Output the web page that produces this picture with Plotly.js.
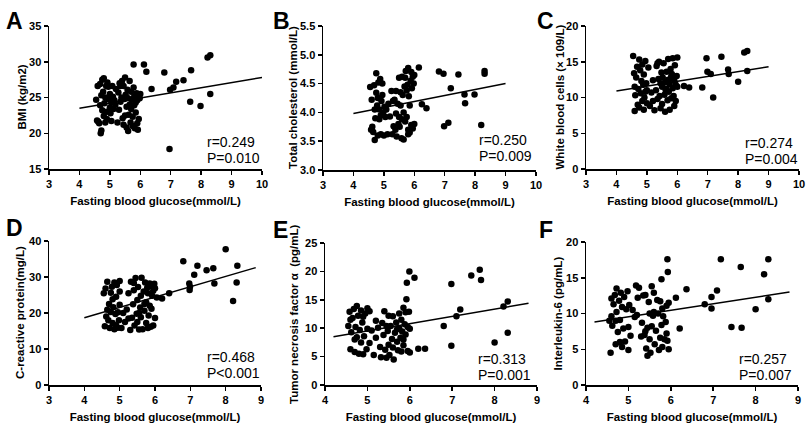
<!DOCTYPE html>
<html>
<head>
<meta charset="utf-8">
<script src="https://cdn.plot.ly/plotly-3.0.1.min.js"></script>
<style>html,body{margin:0;padding:0;background:#fff;}#chart{width:812px;height:425px;}</style>
</head>
<body>
<div id="chart"></div>
<script>
// ---------- DATA ----------
const xTitle = "Fasting blood glucose(mmol/L)";
const panelLetters = ["A", "B", "C", "D", "E", "F"];
const yTitles = ["BMI (kg/m2)", "Total cholesterol (mmol/L)", "White blood cells (× 109/L)",
                 "C-reactive protein(mg/L)", "Tumor necrosis factor α  (pg/mL)", "Interleukin-6 (pg/mL)"];
const rTexts = ["r=0.249", "r=0.250", "r=0.274", "r=0.468", "r=0.313", "r=0.257"];
const pTexts = ["P=0.010", "P=0.009", "P=0.004", "P<0.001", "P=0.001", "P=0.007"];

const xRanges = [[3, 10], [3, 10], [3, 10], [3, 9], [4, 9], [4, 9]];
const yRanges = [[15, 35], [3.0, 5.5], [0, 20], [0, 40], [0, 25], [0, 20]];
const yTickSteps = [5, 0.5, 5, 10, 5, 5];

// Panel A: BMI
const bmiPoints = [
 [4.55,24.7],[4.6,26.6],[4.62,21.6],[4.65,21.4],[4.68,26.9],[4.7,20.0],[4.72,20.4],[4.75,23.2],[4.75,27.5],[4.78,25.8],
 [4.8,22.4],[4.8,27.7],[4.82,24.2],[4.85,21.5],[4.85,25.0],[4.88,26.6],[4.9,23.0],[4.9,22.0],[4.95,24.8],[4.95,26.5],
 [5.0,25.5],[5.0,23.6],[5.02,22.8],[5.05,24.3],[5.08,26.6],[5.1,25.1],[5.12,23.4],[5.15,24.6],[5.2,26.2],[5.25,21.5],
 [5.28,25.7],[5.3,23.3],[5.32,27.0],[5.35,24.4],[5.38,25.0],[5.4,27.3],[5.42,22.1],[5.45,26.6],[5.45,21.2],[5.48,24.8],
 [5.5,27.8],[5.5,22.5],[5.52,25.4],[5.55,23.7],[5.58,26.1],[5.6,20.3],[5.6,24.9],[5.62,22.6],[5.65,27.3],[5.68,21.5],
 [5.7,25.8],[5.7,23.4],[5.72,24.7],[5.75,21.0],[5.78,26.4],[5.8,23.9],[5.8,25.1],[5.82,20.7],[5.85,22.9],[5.85,24.3],
 [5.88,25.6],[5.9,21.4],[5.9,24.6],[5.92,20.5],[5.95,25.2],[5.95,22.0],[5.98,24.9],[6.0,25.5],[4.58,21.8],[4.68,23.9],
 [4.72,25.3],[5.18,24.0],[5.35,26.6],[5.65,24.0],[5.75,22.3],[5.05,21.7],[4.92,27.1],[5.55,20.8],
 [6.12,29.6],[5.78,29.6],[6.2,28.6],[6.37,26.2],[6.79,28.5],[6.98,26.1],[7.09,26.4],[7.18,27.2],[7.42,27.4],[7.67,28.8],
 [7.64,24.4],[7.98,23.8],[8.21,30.6],[8.30,30.9],[8.30,25.5],[6.96,17.8]
];
const bmiFitX = [4, 10];
const bmiFitY = [23.5, 27.8];

// Panel B: total cholesterol
const cholPoints = [
 [4.55,4.44],[4.6,4.22],[4.62,3.75],[4.65,3.66],[4.68,4.47],[4.7,3.52],[4.72,3.9],[4.75,4.34],[4.75,4.68],[4.78,4.12],
 [4.8,3.6],[4.8,4.25],[4.82,4.52],[4.85,3.88],[4.85,4.05],[4.88,4.58],[4.9,3.95],[4.9,3.62],[4.92,4.2],[4.95,4.3],
 [4.98,4.0],[5.0,3.6],[5.02,4.1],[5.05,3.92],[5.08,4.05],[5.12,3.62],[5.2,3.93],[5.25,4.37],[5.28,3.62],[5.3,4.2],
 [5.32,3.76],[5.35,4.22],[5.38,3.7],[5.4,4.37],[5.42,3.58],[5.45,4.15],[5.48,3.8],[5.5,4.6],[5.5,3.92],[5.52,3.75],
 [5.55,4.12],[5.58,3.55],[5.6,4.62],[5.6,3.88],[5.62,4.3],[5.65,3.53],[5.68,4.45],[5.7,4.6],[5.7,3.84],[5.72,4.72],
 [5.75,4.38],[5.75,3.92],[5.78,4.48],[5.8,4.77],[5.8,3.7],[5.82,4.28],[5.85,4.12],[5.85,3.65],[5.88,4.55],[5.9,4.7],
 [5.9,3.78],[5.92,4.42],[5.95,4.62],[5.95,3.72],[5.98,4.5],[6.0,3.8],[6.0,4.65],[4.58,3.7],[4.7,4.05],[4.95,4.5],
 [5.15,4.15],[5.4,3.98],[5.65,4.0],[5.8,3.62],[5.55,4.35],
 [6.15,4.78],[6.25,4.14],[6.4,4.07],[6.81,4.71],[6.96,4.67],[6.98,3.76],[7.12,3.82],[7.2,4.42],[7.45,4.66],[7.65,4.31],
 [7.67,4.16],[7.98,4.31],[8.2,3.78],[8.31,4.72],[8.31,4.67]
];
const cholFitX = [4, 9];
const cholFitY = [3.98, 4.50];

// Panel C: white blood cells
const wbcPoints = [
 [4.55,15.8],[4.58,13.4],[4.6,8.1],[4.62,10.3],[4.65,12.8],[4.68,14.3],[4.7,9.0],[4.72,11.2],[4.75,15.3],[4.75,8.6],
 [4.78,13.8],[4.8,10.6],[4.82,12.3],[4.85,9.5],[4.85,14.6],[4.88,11.8],[4.9,13.2],[4.9,8.3],[4.92,10.0],[4.95,15.1],
 [4.98,12.0],[5.0,9.2],[5.0,11.0],[5.05,14.2],[5.1,8.8],[5.15,10.7],[5.2,12.4],[5.25,8.2],[5.3,11.0],[5.32,14.4],
 [5.35,9.8],[5.38,12.6],[5.4,15.0],[5.42,10.2],[5.45,8.5],[5.48,13.5],[5.5,11.5],[5.5,9.1],[5.52,12.8],[5.55,14.8],
 [5.58,10.4],[5.6,8.0],[5.6,12.1],[5.62,11.0],[5.65,13.6],[5.68,9.6],[5.7,12.5],[5.7,15.4],[5.72,10.8],[5.75,8.3],
 [5.75,11.9],[5.78,14.0],[5.8,9.9],[5.8,12.9],[5.82,13.3],[5.85,11.3],[5.85,15.5],[5.88,10.2],[5.9,12.4],[5.9,8.8],
 [5.92,14.5],[5.95,11.8],[5.95,9.5],[5.98,13.0],[6.0,15.6],[6.0,11.5],[4.6,11.5],[4.95,10.8],[5.2,9.5],[5.45,12.0],
 [5.65,11.2],[5.35,14.8],
 [6.22,11.6],[6.39,11.4],[6.82,11.4],[6.96,15.5],[6.99,13.6],[7.1,13.3],[7.18,10.0],[7.45,15.7],[7.67,13.9],[7.69,13.3],
 [8.0,12.2],[8.2,16.3],[8.3,16.5],[8.3,13.7]
];
const wbcFitX = [4, 9];
const wbcFitY = [10.9, 14.3];

// Panel D: C-reactive protein
const crpPoints = [
 [4.55,25.5],[4.58,16.3],[4.6,26.8],[4.62,19.0],[4.65,28.7],[4.68,18.0],[4.7,22.5],[4.72,15.8],[4.75,25.6],[4.75,20.3],
 [4.78,27.3],[4.8,17.2],[4.82,21.6],[4.85,28.5],[4.85,15.5],[4.88,19.7],[4.9,24.5],[4.9,16.6],[4.92,27.8],[4.95,20.2],
 [4.98,18.0],[5.0,28.9],[5.0,22.3],[5.05,15.8],[5.1,20.0],[5.15,17.5],[5.2,21.0],[5.25,25.5],[5.3,15.3],[5.32,28.7],
 [5.35,18.7],[5.38,22.4],[5.4,26.3],[5.42,16.5],[5.45,29.7],[5.48,19.8],[5.5,23.6],[5.5,17.5],[5.52,27.2],[5.55,15.4],
 [5.58,21.5],[5.6,24.8],[5.6,18.8],[5.62,29.8],[5.65,15.5],[5.68,26.0],[5.7,20.6],[5.72,28.5],[5.75,17.2],[5.75,23.0],
 [5.78,27.0],[5.8,15.8],[5.8,25.5],[5.82,19.3],[5.85,28.2],[5.85,22.0],[5.88,16.2],[5.9,27.5],[5.9,21.2],[5.92,24.8],
 [5.95,16.5],[5.95,26.2],[5.98,28.1],[6.0,18.6],[6.0,26.9],[6.05,24.3],[4.65,20.9],[4.8,23.8],[5.0,26.0],[5.25,18.5],
 [5.55,20.0],[5.7,22.5],[4.95,15.9],[5.4,28.3],
 [6.2,24.0],[6.4,25.5],[6.8,34.4],[6.97,28.2],[6.99,27.3],[6.98,26.4],[7.11,30.6],[7.2,33.1],[7.46,31.9],[7.65,32.4],
 [7.68,28.2],[8.0,37.7],[8.21,23.3],[8.33,33.1],[8.31,28.5]
];
const crpFitX = [4, 8.85];
const crpFitY = [18.7, 32.6];

// Panel E: tumor necrosis factor alpha
const tnfPoints = [
 [4.55,10.4],[4.58,12.9],[4.6,6.3],[4.62,9.3],[4.65,11.8],[4.68,13.4],[4.7,5.8],[4.72,10.2],[4.75,13.9],[4.75,8.4],
 [4.78,12.2],[4.8,5.5],[4.82,9.7],[4.85,13.1],[4.85,7.5],[4.88,11.0],[4.9,5.4],[4.92,8.6],[4.95,12.6],[4.98,6.3],
 [5.0,9.9],[5.0,13.5],[5.05,7.4],[5.1,9.6],[5.15,5.3],[5.2,8.3],[5.25,10.1],[5.3,6.7],[5.32,4.9],[5.35,10.9],
 [5.38,8.8],[5.4,13.0],[5.42,6.2],[5.45,4.8],[5.48,9.5],[5.5,12.2],[5.5,7.1],[5.52,5.3],[5.55,10.4],[5.58,8.1],
 [5.6,12.1],[5.62,4.5],[5.65,9.2],[5.68,11.0],[5.7,7.6],[5.72,6.1],[5.75,10.0],[5.75,12.6],[5.78,8.3],[5.8,5.9],
 [5.8,11.5],[5.82,9.4],[5.85,13.6],[5.85,7.0],[5.88,10.7],[5.9,12.8],[5.9,8.9],[5.92,15.1],[5.95,10.2],[5.95,6.0],
 [5.98,12.9],[6.0,9.9],[6.0,5.7],[4.6,11.5],[4.7,8.0],[4.9,12.0],[5.2,11.3],[5.45,10.4],[5.6,6.6],[5.7,9.8],
 [5.85,8.0],[5.05,13.0],
 [5.99,20.0],[5.93,18.0],[6.11,18.9],[6.2,6.4],[6.36,6.4],[6.8,10.4],[6.98,17.8],[6.98,6.9],[7.1,12.1],[7.19,13.3],
 [7.45,19.3],[7.65,20.3],[7.68,18.5],[8.0,7.5],[8.21,13.8],[8.31,14.7],[8.31,9.2]
];
const tnfFitX = [4.2, 8.8];
const tnfFitY = [8.5, 14.4];

// Panel F: interleukin-6
const il6Points = [
 [4.55,9.0],[4.58,4.5],[4.6,9.6],[4.62,8.3],[4.65,11.3],[4.68,12.6],[4.7,5.7],[4.72,10.2],[4.72,13.5],[4.75,7.4],
 [4.78,11.8],[4.8,9.1],[4.82,12.9],[4.85,5.3],[4.85,10.9],[4.88,7.9],[4.9,12.3],[4.92,6.1],[4.95,10.6],[4.98,13.1],
 [5.0,4.9],[5.0,8.1],[5.02,11.2],[5.05,6.9],[5.1,10.5],[5.15,9.5],[5.18,13.9],[5.22,12.2],[5.25,13.6],[5.3,6.8],
 [5.32,8.7],[5.35,12.5],[5.38,7.0],[5.4,12.6],[5.42,5.1],[5.45,8.0],[5.45,4.1],[5.48,11.6],[5.5,6.4],[5.5,10.0],
 [5.52,4.5],[5.55,13.8],[5.55,8.2],[5.58,9.7],[5.6,12.9],[5.62,5.7],[5.65,7.6],[5.68,11.9],[5.7,10.0],[5.72,4.9],
 [5.75,6.6],[5.75,11.7],[5.78,8.4],[5.8,5.3],[5.8,10.7],[5.82,9.6],[5.85,6.4],[5.88,8.8],[5.9,11.1],[5.92,6.2],
 [5.95,5.0],[5.95,11.5],[4.6,12.1],[4.7,9.0],[4.8,6.0],[5.2,9.8],[5.4,7.5],[5.6,10.2],[5.9,7.2],
 [5.92,17.6],[5.93,15.8],[5.78,14.8],[6.12,12.2],[6.37,13.4],[6.21,7.9],[6.8,11.3],[6.96,12.3],[6.96,10.7],[7.09,13.2],
 [7.18,17.6],[7.43,8.1],[7.65,16.5],[7.67,8.0],[8.0,10.6],[8.2,15.5],[8.3,17.6],[8.3,12.0]
];
const il6FitX = [4.2, 8.8];
const il6FitY = [8.8, 13.0];

// ---------- BUILD ----------
const allPoints = [bmiPoints, cholPoints, wbcPoints, crpPoints, tnfPoints, il6Points];
const fitXs = [bmiFitX, cholFitX, wbcFitX, crpFitX, tnfFitX, il6FitX];
const fitYs = [bmiFitY, cholFitY, wbcFitY, crpFitY, tnfFitY, il6FitY];

const W = 812, H = 425;
// plot boxes in page pixels: [left, right, top, bottom]
const boxes = [
  [49, 262, 26, 169], [323, 536, 26, 170], [586, 799, 26, 169],
  [49, 261, 241, 385], [325, 537, 243, 385], [586, 798, 242, 385]
];
const letterPos = [[4, 6], [271, 6], [535, 6], [4, 213], [271, 215], [537, 215]];
const statPos = [[205, 142], [477, 140], [743, 143], [205, 357], [476, 359], [737, 359]];
const yTitleX = [22, 293, 560, 20, 294, 557];

const FONT = "Arial, 'Liberation Sans', sans-serif";
const traces = [];
const layout = {
  width: W, height: H,
  margin: {l: 0, r: 0, t: 0, b: 0},
  paper_bgcolor: "#fff", plot_bgcolor: "#fff",
  showlegend: false,
  font: {family: FONT, color: "#000"},
  annotations: []
};

for (let i = 0; i < 6; i++) {
  const s = i === 0 ? "" : String(i + 1);
  const b = boxes[i];
  const pts = allPoints[i];
  traces.push({
    type: "scatter", mode: "markers", xaxis: "x" + s, yaxis: "y" + s,
    x: pts.map(p => p[0]), y: pts.map(p => p[1]),
    marker: {color: "#000", size: 6.5}, cliponaxis: false, hoverinfo: "x+y"
  });
  traces.push({
    type: "scatter", mode: "lines", xaxis: "x" + s, yaxis: "y" + s,
    x: fitXs[i], y: fitYs[i], line: {color: "#000", width: 1.5}, hoverinfo: "skip"
  });
  const common = {
    showline: true, linecolor: "#000", linewidth: 1.5, mirror: false,
    ticks: "outside", ticklen: 4, tickwidth: 1.5, tickcolor: "#000",
    showgrid: false, zeroline: false, fixedrange: true,
    tickfont: {family: FONT, size: 11, color: "#000", weight: "bold"}
  };
  layout["xaxis" + s] = Object.assign({}, common, {
    domain: [b[0] / W, b[1] / W], anchor: "y" + s,
    range: xRanges[i], dtick: 1, tick0: 0,
    title: {text: xTitle, font: {family: FONT, size: 11.5, color: "#000", weight: "bold"}, standoff: 8}
  });
  layout["yaxis" + s] = Object.assign({}, common, {
    domain: [1 - b[3] / H, 1 - b[2] / H], anchor: "x" + s,
    range: yRanges[i], dtick: yTickSteps[i], tick0: 0,
    tickformat: i === 1 ? ".1f" : ""
  });
  // y-axis title placed as rotated text at the measured position
  layout.annotations.push({
    xref: "paper", yref: "paper", x: yTitleX[i] / W, y: 1 - (b[2] + b[3]) / 2 / H,
    xanchor: "center", yanchor: "middle", textangle: -90, showarrow: false, text: yTitles[i],
    font: {family: FONT, size: 11.5, color: "#000", weight: "bold"}
  });
  layout.annotations.push({
    xref: "paper", yref: "paper", x: letterPos[i][0] / W, y: 1 - letterPos[i][1] / H,
    xanchor: "left", yanchor: "top", showarrow: false, text: panelLetters[i],
    font: {family: FONT, size: 23, color: "#000", weight: "bold"}
  });
  layout.annotations.push({
    xref: "paper", yref: "paper", x: statPos[i][0] / W, y: 1 - statPos[i][1] / H,
    xanchor: "left", yanchor: "middle", showarrow: false, text: rTexts[i],
    font: {family: FONT, size: 14, color: "#000"}
  });
  layout.annotations.push({
    xref: "paper", yref: "paper", x: statPos[i][0] / W, y: 1 - (statPos[i][1] + 16) / H,
    xanchor: "left", yanchor: "middle", showarrow: false, text: pTexts[i],
    font: {family: FONT, size: 14, color: "#000"}
  });
}

Plotly.newPlot("chart", traces, layout, {displayModeBar: false, staticPlot: true});
</script>
</body>
</html>
